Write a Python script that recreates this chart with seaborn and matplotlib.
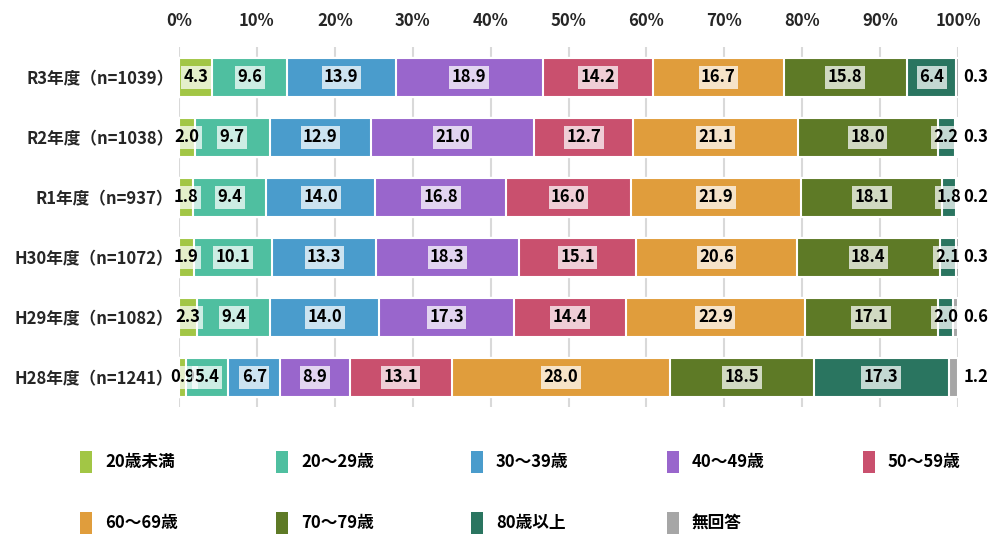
import matplotlib
matplotlib.use("Agg")
import matplotlib.pyplot as plt
import matplotlib.patches as mpatches
import numpy as np
import pandas as pd
import seaborn as sns

years = ["R3年度（n=1039）", "R2年度（n=1038）", "R1年度（n=937）",
         "H30年度（n=1072）", "H29年度（n=1082）", "H28年度（n=1241）"]
groups = ["20歳未満", "20～29歳", "30～39歳", "40～49歳", "50～59歳",
          "60～69歳", "70～79歳", "80歳以上", "無回答"]
colors = ["#a2c645", "#4fbfa0", "#4a9ccc", "#9966cc", "#c9506e",
          "#e09d3c", "#5e7a26", "#2a7560", "#a6a6a6"]

r3 = [4.3, 9.6, 13.9, 18.9, 14.2, 16.7, 15.8, 6.4, 0.3]
r2 = [2.0, 9.7, 12.9, 21.0, 12.7, 21.1, 18.0, 2.2, 0.3]
r1 = [1.8, 9.4, 14.0, 16.8, 16.0, 21.9, 18.1, 1.8, 0.2]
h30 = [1.9, 10.1, 13.3, 18.3, 15.1, 20.6, 18.4, 2.1, 0.3]
h29 = [2.3, 9.4, 14.0, 17.3, 14.4, 22.9, 17.1, 2.0, 0.6]
h28 = [0.9, 5.4, 6.7, 8.9, 13.1, 28.0, 18.5, 17.3, 1.2]

ticks = [0, 10, 20, 30, 40, 50, 60, 70, 80, 90, 100]
tick_labels = [f"{t}%" for t in ticks]

sns.set_theme(style="white")
plt.rcParams["font.family"] = ["Noto Sans CJK JP", "DejaVu Sans"]
plt.rcParams["font.weight"] = "bold"

values = np.array([r3, r2, r1, h30, h29, h28])
df = pd.DataFrame(values, columns=groups)
df.insert(0, "year", years)
cum = df[groups].cumsum(axis=1)

W, H = 1000, 536
fig = plt.figure(figsize=(W / 100, H / 100), dpi=100)
ax = fig.add_axes([0.179, 1 - 407 / H, 0.779, 360 / H])

# stacked bars: draw the cumulative totals from the outermost segment inward
for i in range(len(groups) - 1, -1, -1):
    sns.barplot(x=cum[groups[i]], y=df["year"], orient="h", color=colors[i],
                width=0.65, edgecolor="white", linewidth=1.5, ax=ax,
                saturation=1, zorder=2)

ax.set_xlim(0, 100)
ax.set_xticks(ticks)
ax.set_xticklabels(tick_labels, fontsize=12, fontweight="bold")
ax.xaxis.tick_top()
ax.tick_params(axis="x", length=0, pad=12)
ax.tick_params(axis="y", length=0, pad=4, labelsize=12)
for lab in ax.get_yticklabels():
    lab.set_fontweight("bold")
ax.set_xlabel("")
ax.set_ylabel("")
ax.grid(axis="x", color="#d9d9d9", linewidth=1.5, zorder=0)
ax.set_axisbelow(True)
for s in ax.spines.values():
    s.set_visible(False)

box = dict(boxstyle="square,pad=0.15", facecolor="white", alpha=0.72,
           edgecolor="none")
for r in range(len(years)):
    left = 0.0
    for i, g in enumerate(groups):
        v = values[r, i]
        if i == len(groups) - 1:
            ax.text(102.3, r, f"{v:.1f}", ha="center", va="center",
                    fontsize=12, fontweight="bold", color="black",
                    clip_on=False)
        else:
            ax.text(left + v / 2, r, f"{v:.1f}", ha="center", va="center",
                    fontsize=12, fontweight="bold", color="black", bbox=box,
                    zorder=5)
        left += v

# legend: five entries per row, laid out on a fixed grid (pixel units)
col_x = [80, 276, 471, 667, 863]
row_y = [462, 523]
for k, (g, c) in enumerate(zip(groups, colors)):
    x0 = col_x[k % 5]
    y0 = row_y[k // 5]
    fig.patches.append(mpatches.Rectangle(
        (x0 / W, (H - y0 - 11) / H), 12 / W, 22 / H,
        transform=fig.transFigure, facecolor=c, edgecolor="none"))
    fig.text((x0 + 25) / W, (H - y0) / H, g, ha="left", va="center",
             fontsize=12, fontweight="bold", color="black")

fig.savefig("out.png", dpi=100)
